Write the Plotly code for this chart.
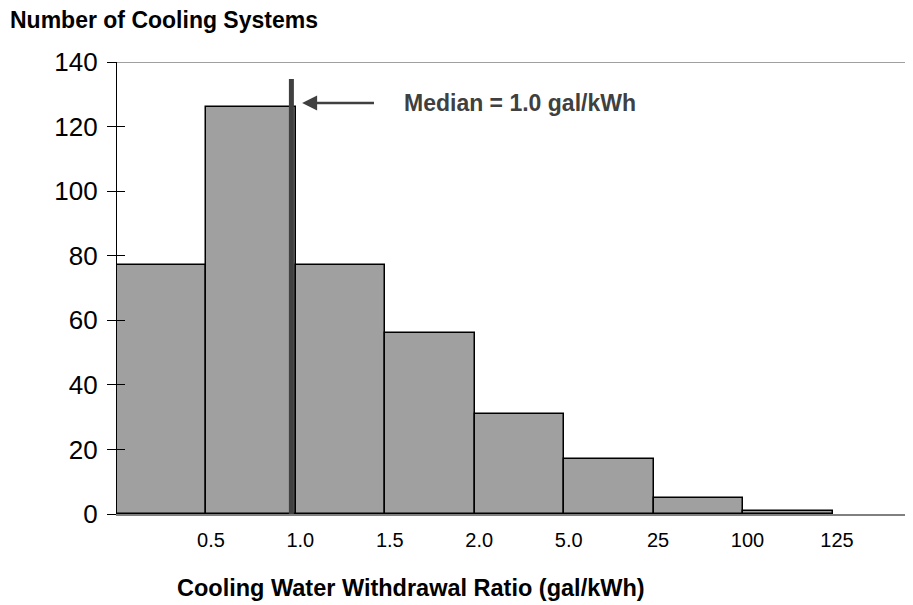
import plotly.graph_objects as go

# Data
bin_labels = ["0.5", "1.0", "1.5", "2.0", "5.0", "25", "100", "125"]  # bin edge tick labels
counts = [77, 126, 77, 56, 31, 17, 5, 1]
median_label = "Median = 1.0 gal/kWh"
median_pos = 1.95  # position on the category-edge axis (edge index of "1.0" = 2)

FONT = "Liberation Sans, Arial, sans-serif"
OFF = 8  # default page body margin
W, H = 913 - OFF, 605 - OFF
L, R, T = 117 - OFF, 0, 62 - OFF
B = H - (514 - OFF)
plot_w = W - L - R
plot_h = H - T - B

centers = [i + 0.5 for i in range(len(counts))]
edges = [i + 1 for i in range(len(bin_labels))]

fig = go.Figure()
fig.add_trace(go.Bar(
    x=centers, y=counts, width=1,
    marker=dict(color="#a0a0a0", line=dict(color="black", width=1.5)),
    showlegend=False, hoverinfo="skip",
))
# invisible trace to enable overlay axis for inside ticks
fig.add_trace(go.Scatter(x=[0], y=[0], yaxis="y2", mode="markers",
                         marker=dict(opacity=0), showlegend=False, hoverinfo="skip"))

fig.update_layout(
    width=W, height=H,
    margin=dict(l=L, r=R, t=T, b=B),
    paper_bgcolor="white", plot_bgcolor="white",
    font=dict(family=FONT, color="black"),
    bargap=0,
    xaxis=dict(
        range=[0, 8.9], showgrid=False, zeroline=False,
        showline=True, linecolor="#808080", linewidth=1.5,
        tickmode="array", tickvals=[e + 0.05 for e in edges], ticktext=bin_labels,
        ticks="", tickfont=dict(size=20, family=FONT, color="black"),
        ticklabelstandoff=7,
    ),
    yaxis=dict(
        range=[0, 140], dtick=20, showgrid=False, zeroline=False,
        showline=True, linecolor="black", linewidth=1.2,
        ticks="outside", ticklen=9, tickcolor="black", tickwidth=1,
        tickfont=dict(size=26, family=FONT, color="black"),
        ticklabelstandoff=4,
    ),
    yaxis2=dict(
        range=[0, 140], dtick=20, overlaying="y", side="left",
        showgrid=False, zeroline=False, showline=False,
        ticks="inside", ticklen=8, tickcolor="black", tickwidth=1,
        showticklabels=False,
    ),
    title=dict(
        text="<b>Number of Cooling Systems</b>",
        font=dict(size=23, family=FONT, color="black"),
        x=(10 - OFF) / W, xanchor="left", xref="container",
        y=1 - (20 - OFF) / H, yanchor="middle", yref="container",
    ),
)

# top border line at 140
fig.add_shape(type="line", xref="paper", yref="y", x0=0, x1=1, y0=140, y1=140,
              line=dict(color="#808080", width=1.5))

# median line
fig.add_shape(type="line", xref="x", yref="y", x0=median_pos, x1=median_pos,
              y0=-3.4, y1=134.7, line=dict(color="#404040", width=5))

# arrow
fig.add_annotation(x=2.07, y=127.3, ax=2.89, ay=127.3, xref="x", yref="y",
                   axref="x", ayref="y", showarrow=True, arrowhead=2,
                   arrowsize=1.2, arrowwidth=2.5, arrowcolor="#404040", text="")
fig.add_annotation(x=3.19, y=127.3, xref="x", yref="y", xanchor="left", yanchor="middle",
                   text="<b>" + median_label + "</b>", showarrow=False,
                   font=dict(size=23, family=FONT, color="#404040"))

# x axis title
fig.add_annotation(x=(175 - 117) / plot_w, y=(514 - 588) / plot_h, xref="paper", yref="paper",
                   xanchor="left", yanchor="middle", showarrow=False,
                   text="<b>Cooling Water Withdrawal Ratio (gal/kWh)</b>",
                   font=dict(size=23.5, family=FONT, color="black"))

fig.write_html("out.html")
